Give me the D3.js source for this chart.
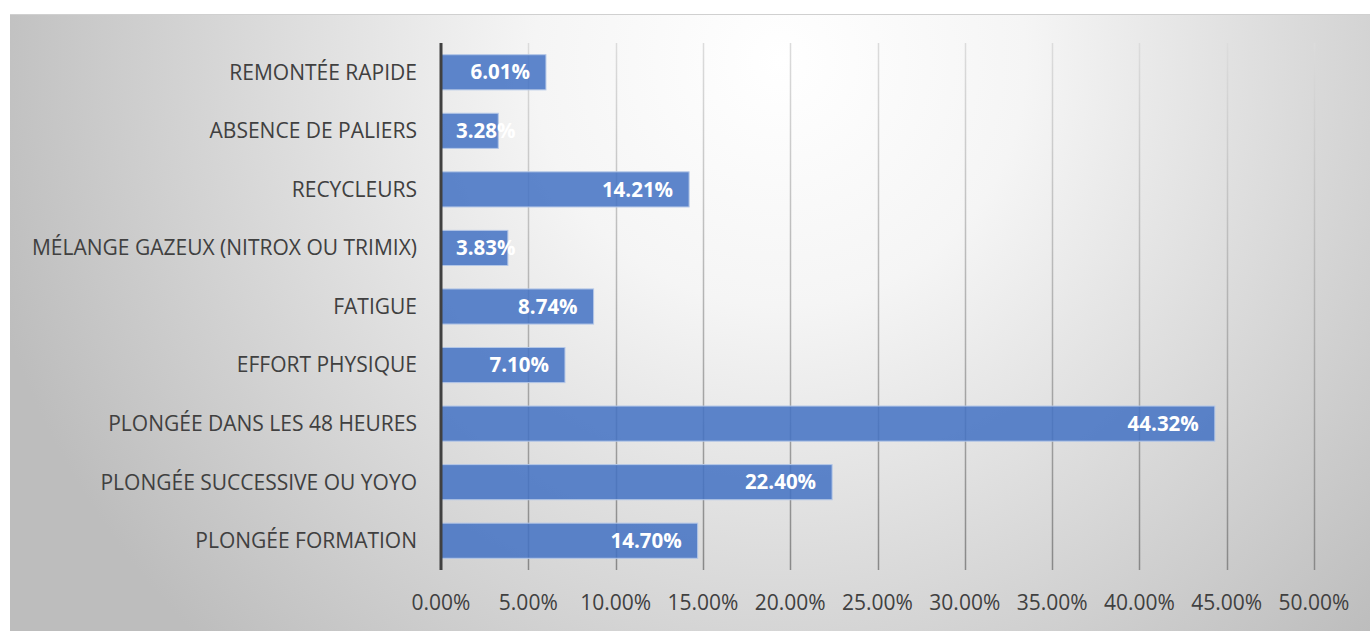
<!DOCTYPE html>
<html>
<head>
<meta charset="utf-8">
<script src="https://cdn.jsdelivr.net/npm/d3@7"></script>
<style>
  html, body { margin: 0; padding: 0; background: #ffffff; }
  svg { display: block; }
</style>
</head>
<body>
<svg id="chart" width="1370" height="631"></svg>
<script>
// Risk factors and their share of cases (percent)
const categories = [
  "REMONTÉE RAPIDE",
  "ABSENCE DE PALIERS",
  "RECYCLEURS",
  "MÉLANGE GAZEUX (NITROX OU TRIMIX)",
  "FATIGUE",
  "EFFORT PHYSIQUE",
  "PLONGÉE DANS LES 48 HEURES",
  "PLONGÉE SUCCESSIVE OU YOYO",
  "PLONGÉE FORMATION"
];
const values = [6.01, 3.28, 14.21, 3.83, 8.74, 7.10, 44.32, 22.40, 14.70];
const tickValues = [0, 5, 10, 15, 20, 25, 30, 35, 40, 45, 50];

const svg = d3.select("#chart");
const W = 1370, H = 631;
const panel = { x: 10, y: 14, w: W - 10, h: H - 14 };
const plot = { left: 441, right: 1314, top: 43, bottom: 570 };
const font = "'Open Sans', 'Liberation Sans', sans-serif";

const defs = svg.append("defs");

// Background panel with soft radial shading
const grad = defs.append("radialGradient")
  .attr("id", "bg")
  .attr("gradientUnits", "userSpaceOnUse")
  .attr("cx", 780).attr("cy", 60).attr("r", 820);
grad.append("stop").attr("offset", "0%").attr("stop-color", "#ffffff");
grad.append("stop").attr("offset", "30%").attr("stop-color", "#f5f5f5");
grad.append("stop").attr("offset", "100%").attr("stop-color", "#bdbdbd");

// Gridlines fade from light at the top to darker at the bottom
const gridGrad = defs.append("linearGradient")
  .attr("id", "gridFade")
  .attr("gradientUnits", "userSpaceOnUse")
  .attr("x1", 0).attr("x2", 0)
  .attr("y1", plot.top).attr("y2", plot.bottom);
gridGrad.append("stop").attr("offset", "0%").attr("stop-color", "#dcdcdc");
gridGrad.append("stop").attr("offset", "100%").attr("stop-color", "#888888");

svg.append("rect")
  .attr("x", panel.x).attr("y", panel.y)
  .attr("width", panel.w).attr("height", panel.h)
  .attr("fill", "url(#bg)");
svg.append("line")
  .attr("x1", panel.x).attr("x2", W)
  .attr("y1", panel.y + 0.5).attr("y2", panel.y + 0.5)
  .attr("stroke", "#d0d0d0").attr("stroke-width", 1);

const x = d3.scaleLinear().domain([0, 50]).range([plot.left, plot.right]);
const y = d3.scaleBand().domain(categories).range([plot.top, plot.bottom]).paddingInner(0.4).paddingOuter(0.2);

// Vertical gridlines
svg.append("g").selectAll("line")
  .data(tickValues.filter(d => d > 0))
  .join("line")
  .attr("x1", d => Math.round(x(d)) + 0.5).attr("x2", d => Math.round(x(d)) + 0.5)
  .attr("y1", plot.top).attr("y2", plot.bottom)
  .attr("stroke", "url(#gridFade)").attr("stroke-width", 1.5);

// Bars
svg.append("g").selectAll("rect")
  .data(values)
  .join("rect")
  .attr("x", x(0))
  .attr("y", (d, i) => y(categories[i]))
  .attr("width", d => x(d) - x(0))
  .attr("height", y.bandwidth())
  .attr("fill", "#4472c4")
  .attr("fill-opacity", 0.86)
  .attr("stroke", "#b4c7e7")
  .attr("stroke-width", 1);

// Category axis line
svg.append("line")
  .attr("x1", x(0)).attr("x2", x(0))
  .attr("y1", plot.top).attr("y2", plot.bottom)
  .attr("stroke", "#404040").attr("stroke-width", 3);

// Category labels
svg.append("g").selectAll("text")
  .data(categories)
  .join("text")
  .attr("x", 417)
  .attr("y", d => y(d) + y.bandwidth() / 2)
  .attr("dy", "0.35em")
  .attr("text-anchor", "end")
  .attr("font-family", font)
  .attr("font-size", 21)
  .attr("fill", "#404040")
  .text(d => d);

// Value axis labels
svg.append("g").selectAll("text")
  .data(tickValues)
  .join("text")
  .attr("x", d => x(d))
  .attr("y", 603)
  .attr("dy", "0.35em")
  .attr("text-anchor", "middle")
  .attr("font-family", font)
  .attr("font-size", 21)
  .attr("fill", "#404040")
  .text(d => d3.format(".2f")(d) + "%");

// Value labels inside bar ends
svg.append("g").selectAll("text")
  .data(values)
  .join("text")
  .attr("y", (d, i) => y(categories[i]) + y.bandwidth() / 2)
  .attr("dy", "0.35em")
  .attr("text-anchor", "start")
  .attr("font-family", font)
  .attr("font-weight", "bold")
  .attr("font-size", 20.5)
  .attr("fill", "#ffffff")
  .text(d => d3.format(".2f")(d) + "%")
  .each(function (d) {
    const w = this.getComputedTextLength();
    const start = Math.max(x(d) - 16 - w, x(0) + 15);
    d3.select(this).attr("x", start);
  });
</script>
</body>
</html>
